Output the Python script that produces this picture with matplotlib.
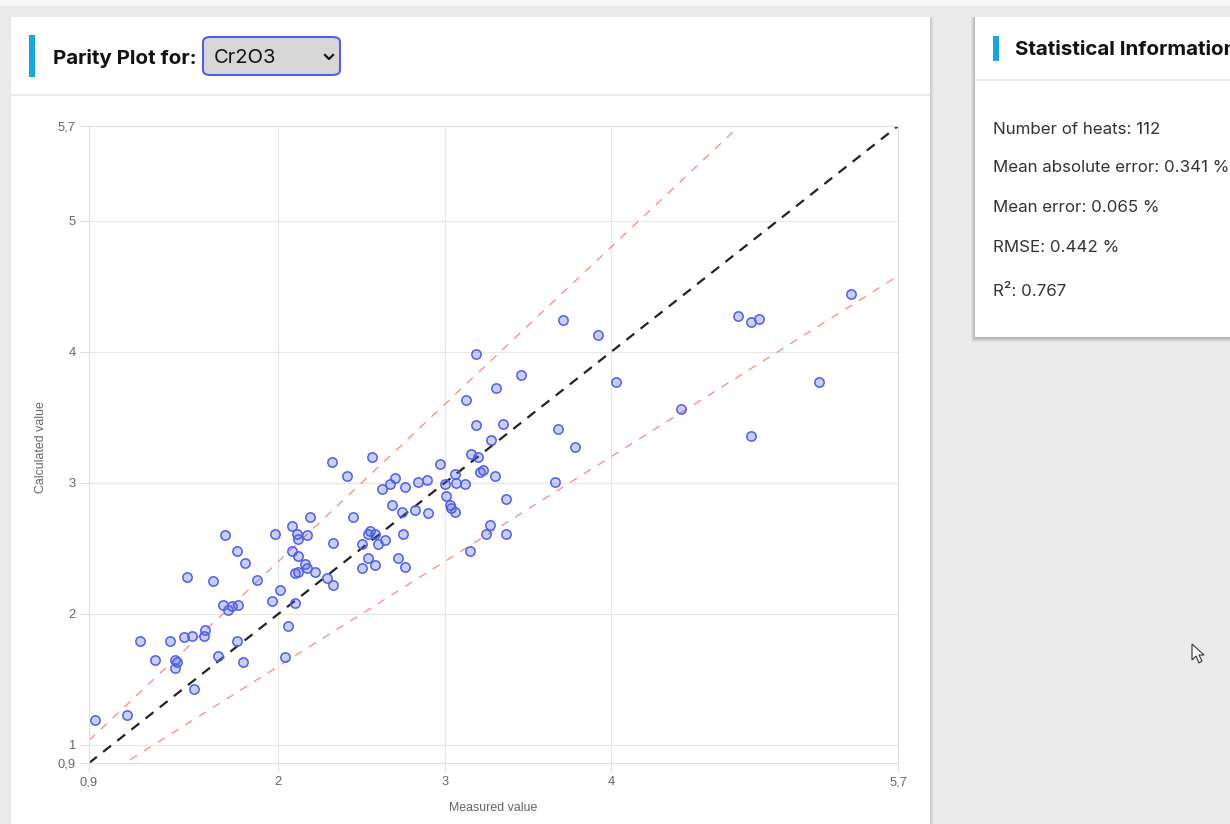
import matplotlib
matplotlib.use("Agg")
import matplotlib.pyplot as plt
from matplotlib.patches import Rectangle, FancyBboxPatch, Polygon
from matplotlib.lines import Line2D

W, H = 1230, 824

# measured vs calculated Cr2O3 (one point per heat)
measured = [0.90, 1.09, 1.17, 1.26, 1.35, 1.38, 1.39, 1.38, 1.43, 1.48,
            1.49, 1.45, 1.55, 1.56, 1.61, 1.64, 1.68, 1.67, 1.70, 1.72,
            1.76, 1.75, 1.75, 1.79, 1.80, 1.87, 1.96, 1.98, 2.01, 2.04,
            2.06, 2.08, 2.11, 2.12, 2.17, 2.08, 2.12, 2.10, 2.12, 2.10,
            2.16, 2.17, 2.22, 2.19, 2.29, 2.33, 2.33, 2.45, 2.50, 2.50,
            2.54, 2.54, 2.55, 2.58, 2.58, 2.60, 2.32, 2.41, 2.64, 2.56,
            2.62, 2.67, 2.70, 2.76, 2.68, 2.74, 2.75, 2.72, 2.76, 2.82,
            2.84, 2.89, 2.90, 2.97, 3.00, 3.01, 3.03, 3.04, 3.06, 3.06,
            3.07, 3.12, 3.13, 3.15, 3.16, 3.20, 3.19, 3.21, 3.23, 3.28,
            3.30, 3.25, 3.27, 3.35, 3.37, 3.37, 3.71, 3.92, 3.19, 3.46,
            3.31, 3.66, 3.68, 3.78, 4.03, 4.42, 4.76, 4.84, 4.89, 4.84,
            5.25, 5.44]
calculated = [1.19, 1.23, 1.79, 1.65, 1.79, 1.65, 1.63, 1.59, 1.82, 1.83,
              1.43, 2.28, 1.83, 1.88, 2.25, 1.68, 2.60, 2.07, 2.03, 2.06,
              2.07, 2.48, 1.79, 1.63, 2.39, 2.26, 2.10, 2.61, 2.18, 1.67,
              1.91, 2.67, 2.61, 2.57, 2.60, 2.48, 2.44, 2.31, 2.32, 2.08,
              2.38, 2.35, 2.32, 2.74, 2.27, 2.22, 2.54, 2.74, 2.53, 2.35,
              2.43, 2.61, 2.63, 2.61, 2.37, 2.53, 3.16, 3.05, 2.56, 3.20,
              2.95, 2.99, 3.04, 2.97, 2.83, 2.78, 2.61, 2.43, 2.36, 2.79,
              3.01, 3.02, 2.77, 3.14, 2.99, 2.90, 2.83, 2.81, 2.78, 3.07,
              3.00, 2.99, 3.63, 2.48, 3.22, 3.20, 3.44, 3.08, 3.10, 3.33,
              3.05, 2.61, 2.68, 3.45, 2.88, 2.61, 4.24, 4.13, 3.98, 3.82,
              3.72, 3.01, 3.41, 3.27, 3.77, 3.56, 4.27, 4.23, 4.25, 3.36,
              3.77, 4.44]

axis_min, axis_max = 0.862, 5.723
x_ticks = [axis_min, 2, 3, 4, axis_max]
x_labels = ["0,9", "2", "3", "4", "5,7"]
y_ticks = [axis_min, 1, 2, 3, 4, 5, axis_max]
y_labels = ["0,9", "1", "2", "3", "4", "5", "5,7"]
band = [0.8, 1.2]

stats = ["Number of heats: 112",
         "Mean absolute error: 0.341 %",
         "Mean error: 0.065 %",
         "RMSE: 0.442 %",
         "R\u00b2: 0.767"]
selected = "Cr2O3"


def fx(px):
    return px / W


def fy(py):
    return 1 - py / H


def box(x0, y0, x1, y1, **kw):
    fig.patches.append(Rectangle((fx(x0), fy(y1)), fx(x1) - fx(x0), fy(y0) - fy(y1),
                                 transform=fig.transFigure, figure=fig, zorder=-2, **kw))


fig = plt.figure(figsize=(W / 100, H / 100), dpi=100, facecolor="#ebebeb")

# page chrome
box(0, 0, W, 6, color="#f6f6f6", lw=0)
# card shadows
for i, a in enumerate([0.05, 0.04, 0.03, 0.02]):
    box(11, 17, 930 + i + 1, 824, color="black", alpha=a, lw=0)
    box(975 - i - 1, 17, W, 337 + i + 2, color="black", alpha=a + 0.02, lw=0)
box(11, 17, 930, 824, color="white", lw=0)
box(975, 17, W, 337, color="white", lw=0)
# header separators
box(11, 94, 930, 96, color="#e9e9e9", lw=0)
box(975, 79, W, 81, color="#e9e9e9", lw=0)
# accent bars
box(29, 35, 35, 77, color="#18a4e0", lw=0)
box(993, 36, 999, 61, color="#18a4e0", lw=0)

fig.text(fx(53), fy(58), "Parity Plot for:", fontsize=14.8, fontweight="bold",
         family="Inter", color="#111111", ha="left", va="center")
fig.text(fx(1015), fy(50), "Statistical Information", fontsize=14.8, fontweight="bold",
         family="Inter", color="#111111", ha="left", va="center")

# dropdown
fig.patches.append(FancyBboxPatch((fx(203), fy(75)), fx(340) - fx(203), fy(37) - fy(75),
                                  boxstyle="round,pad=0,rounding_size=0.006",
                                  transform=fig.transFigure, figure=fig,
                                  facecolor="#d7d7d7", edgecolor="#4d62e8", lw=1.5))
fig.text(fx(214), fy(58), selected, fontsize=14.5, family="Inter", color="#111111",
         ha="left", va="center")
fig.lines.append(Line2D([fx(325), fx(329), fx(333)], [fy(55), fy(59), fy(55)],
                        transform=fig.transFigure, figure=fig, color="#111111", lw=1.6))

for i, s in enumerate(stats):
    fig.text(fx(993), fy([129, 168, 208, 248, 291][i]), s, fontsize=12.2, family="Inter",
             color="#333333", ha="left", va="center")

# mouse pointer
arrow = [(1192, 644), (1192, 660), (1196, 656), (1199, 663), (1202, 661),
         (1199, 655), (1204, 655)]
fig.patches.append(Polygon([(fx(a), fy(b)) for a, b in arrow], closed=True,
                           transform=fig.transFigure, figure=fig,
                           facecolor="white", edgecolor="#333333", lw=0.8))

# parity plot
ax = fig.add_axes([fx(89), fy(763), fx(898) - fx(89), fy(126) - fy(763)])
ax.set_facecolor("white")
ax.set_xlim(axis_min, axis_max)
ax.set_ylim(axis_min, axis_max)
ax.set_xticks(x_ticks, x_labels)
ax.set_yticks(y_ticks, y_labels)
ax.grid(True, color="#e6e6e6", lw=0.8)
ax.set_axisbelow(True)
for sp in ax.spines.values():
    sp.set_color("#e0e0e0")
    sp.set_linewidth(0.8)
ax.tick_params(length=6.5, width=0.8, color="#e0e0e0", labelcolor="#666666",
               labelsize=9.3, pad=3)
for t in ax.get_xticklabels() + ax.get_yticklabels():
    t.set_family("Liberation Sans")

lims = [axis_min, axis_max]
ax.plot(lims, [band[1] * v for v in lims], color="#ff8585", lw=0.9, dashes=(6.5, 6.5))
ax.plot(lims, [band[0] * v for v in lims], color="#ff8585", lw=0.9, dashes=(6.5, 6.5))
ax.plot(lims, lims, color="#222222", lw=1.6, dashes=(4.5, 3.6))
ax.plot(measured, calculated, "o", ms=6.7, mew=1.1, mec="#4e5fea",
        mfc=(0.31, 0.38, 0.93, 0.3), zorder=3)

fig.text(fx(41), fy(447), "Calculated value", rotation=90, fontsize=8.9,
         family="Liberation Sans", color="#666666", ha="center", va="center")
fig.text(fx(493), fy(808), "Measured value", fontsize=8.9,
         family="Liberation Sans", color="#666666", ha="center", va="center")

fig.savefig("out.png", dpi=100, facecolor=fig.get_facecolor())
